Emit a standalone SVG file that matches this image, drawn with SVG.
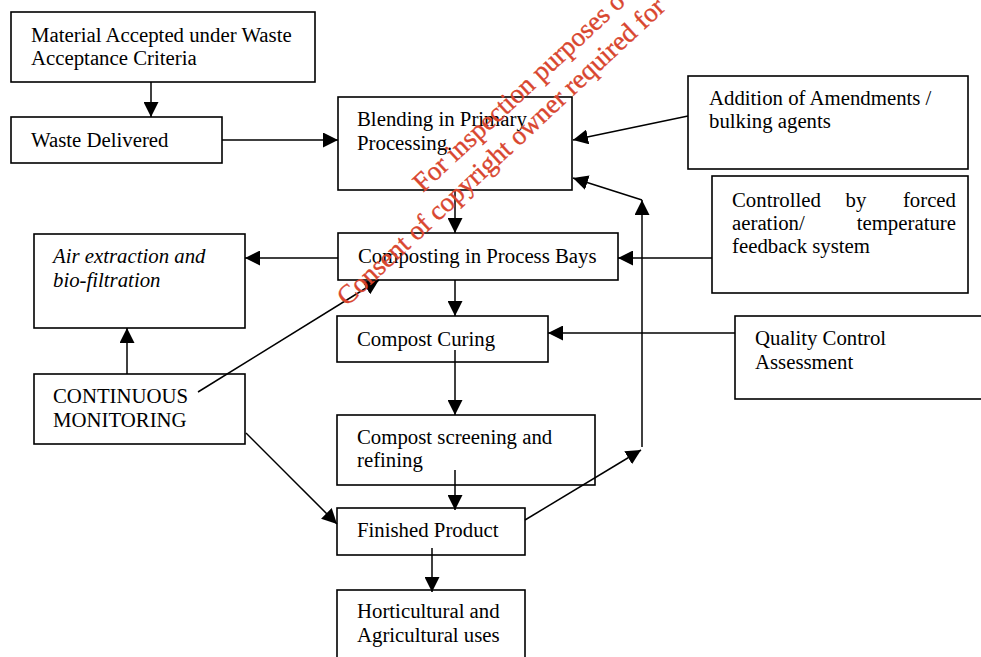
<svg xmlns="http://www.w3.org/2000/svg" width="981" height="657" viewBox="0 0 981 657">
<style>
.box{fill:none;stroke:#000;stroke-width:1.6}
.t{font-family:"Liberation Serif","Times New Roman",serif;font-size:20.8px;fill:#000}
.i{font-style:italic}
.c{stroke:#000;stroke-width:1.5;fill:none}
.a{marker-end:url(#ah)}
.wm{font-family:"Liberation Serif","Times New Roman",serif;font-size:27px;fill:#d9462f;stroke:#d9462f;stroke-width:0.35}
</style>
<defs>
<marker id="ah" markerUnits="userSpaceOnUse" markerWidth="15" markerHeight="15" viewBox="0 0 15 15" refX="15" refY="7.5" orient="auto">
<path d="M0,0 L15,7.5 L0,15 Z" fill="#000"/>
</marker>
</defs>
<rect width="981" height="657" fill="#fff"/>
<g id="connectors">
<line class="c a" x1="151" y1="82" x2="151" y2="117"/>
<line class="c a" x1="222" y1="140" x2="338" y2="140"/>
<line class="c a" x1="688" y1="116" x2="573" y2="140"/>
<line class="c a" x1="455" y1="190" x2="455" y2="233"/>
<line class="c a" x1="712" y1="258" x2="618" y2="258"/>
<line class="c a" x1="338" y1="258" x2="245" y2="258"/>
<line class="c a" x1="455" y1="280" x2="455" y2="316"/>
<line class="c a" x1="735" y1="333" x2="548" y2="333"/>
<line class="c a" x1="455" y1="350" x2="455" y2="415"/>
<line class="c a" x1="455" y1="470" x2="455" y2="510"/>
<line class="c a" x1="432" y1="548" x2="432" y2="592"/>
<line class="c a" x1="127" y1="374" x2="127" y2="328"/>
<line class="c a" x1="198" y1="392" x2="379" y2="280"/>
<line class="c a" x1="246" y1="433" x2="337" y2="524"/>
<line class="c a" x1="525" y1="520" x2="641" y2="450"/>
<line class="c a" x1="642" y1="447" x2="642" y2="200"/>
<line class="c a" x1="642" y1="200" x2="573" y2="178"/>
</g>
<g id="material">
<rect class="box" x="11" y="12" width="304" height="70"/>
<text class="t" x="31" y="42">Material Accepted under Waste</text>
<text class="t" x="31" y="65">Acceptance Criteria</text>
</g>
<g id="waste">
<rect class="box" x="11" y="117" width="211" height="46"/>
<text class="t" x="31" y="147">Waste Delivered</text>
</g>
<g id="blending">
<rect class="box" x="338" y="97" width="234" height="93"/>
<text class="t" x="357" y="126">Blending in Primary</text>
<text class="t" x="357" y="150">Processing.</text>
</g>
<g id="addition">
<rect class="box" x="688" y="76" width="280" height="93"/>
<text class="t" x="709" y="105">Addition of Amendments /</text>
<text class="t" x="709" y="128">bulking agents</text>
</g>
<g id="controlled">
<rect class="box" x="712" y="176" width="256" height="117"/>
<text class="t" x="732" y="207">Controlled</text>
<text class="t" x="856" y="207" text-anchor="middle">by</text>
<text class="t" x="956" y="207" text-anchor="end">forced</text>
<text class="t" x="732" y="230">aeration/</text>
<text class="t" x="956" y="230" text-anchor="end">temperature</text>
<text class="t" x="732" y="253">feedback system</text>
</g>
<g id="composting">
<rect class="box" x="338" y="233" width="280" height="47"/>
<text class="t" x="358" y="263">Composting in Process Bays</text>
</g>
<g id="air">
<rect class="box" x="34" y="234" width="211" height="94"/>
<text class="t i" x="53" y="263">Air extraction and</text>
<text class="t i" x="53" y="287">bio-filtration</text>
</g>
<g id="monitoring">
<rect class="box" x="34" y="374" width="211" height="70"/>
<text class="t" x="53" y="403">CONTINUOUS</text>
<text class="t" x="53" y="427">MONITORING</text>
</g>
<g id="curing">
<rect class="box" x="337" y="316" width="211" height="46"/>
<text class="t" x="357" y="346">Compost Curing</text>
</g>
<g id="quality">
<rect class="box" x="735" y="316" width="260" height="83"/>
<text class="t" x="755" y="345">Quality Control</text>
<text class="t" x="755" y="369">Assessment</text>
</g>
<g id="screening">
<rect class="box" x="337" y="415" width="258" height="70"/>
<text class="t" x="357" y="444">Compost screening and</text>
<text class="t" x="357" y="467">refining</text>
</g>
<g id="finished">
<rect class="box" x="337" y="508" width="188" height="47"/>
<text class="t" x="357" y="537">Finished Product</text>
</g>
<g id="horticultural">
<rect class="box" x="337" y="590" width="188" height="80"/>
<text class="t" x="357" y="618">Horticultural and</text>
<text class="t" x="357" y="642">Agricultural uses</text>
</g>
<g id="watermark">
<text class="wm" transform="translate(423,193) rotate(-43)">For inspection purposes o</text>
<text class="wm" transform="translate(347,307) rotate(-43)">Consent of copyright owner required for</text>
</g>
</svg>
